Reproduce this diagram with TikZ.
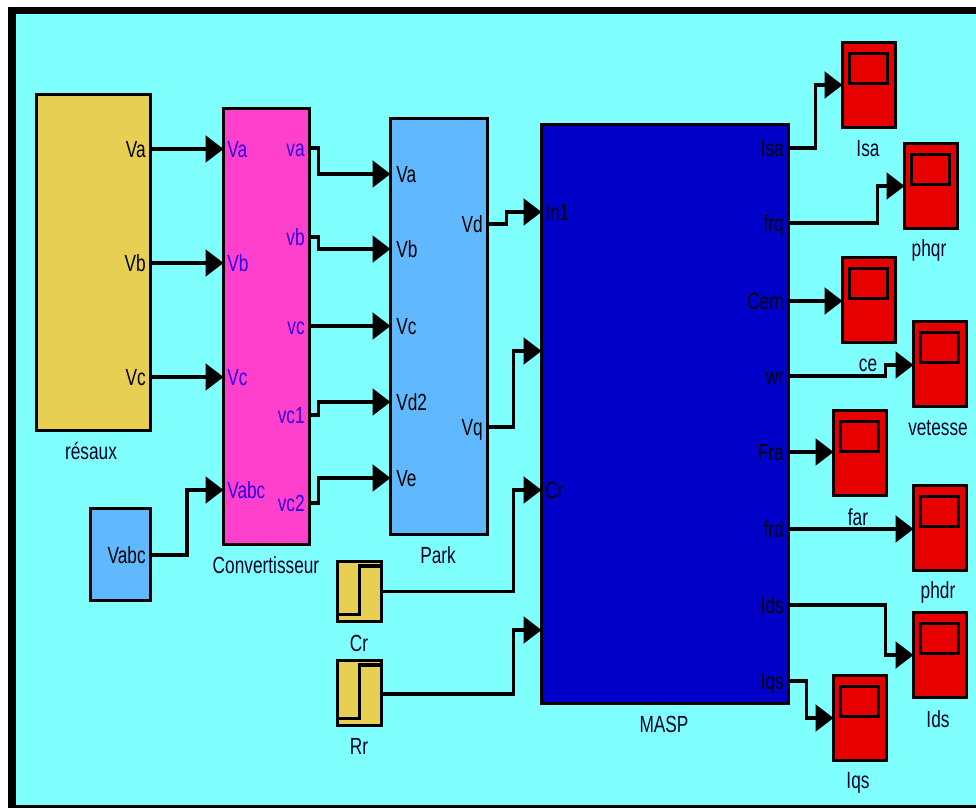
\documentclass[tikz,border=0pt]{standalone}
\usepackage{fontspec}
\setmainfont[FakeStretch=0.74]{Liberation Sans}
\usetikzlibrary{arrows.meta,calc}
\definecolor{sfond}{HTML}{80FFFF}
\definecolor{sgold}{HTML}{E6CF52}
\definecolor{srose}{HTML}{FF40CC}
\definecolor{sciel}{HTML}{60B8FF}
\definecolor{smasp}{HTML}{0000C8}
\definecolor{srouge}{HTML}{E60000}
\definecolor{sport}{HTML}{3000E0}
\tikzset{
  block/.style={draw=black,rectangle,line width=2.6pt,inner sep=0pt,outer sep=0pt},
  scopeb/.style={block,fill=srouge,minimum width=39.75pt,minimum height=63.75pt,
    path picture={\draw[line width=2.6pt] ($(path picture bounding box.north west)+(7,11)$) rectangle ++(38,30);}},
  stepb/.style={block,fill=sgold,minimum width=33pt,
    path picture={\draw[line width=2.6pt] ($(path picture bounding box.south west)+(0,-7)$) -| ($(path picture bounding box.north)+(0,4.5)$) -- ++(20,0);}},
  port/.style={font=\fontsize{17.5pt}{20pt}\selectfont,inner sep=0pt,text height=12.5pt,text depth=0pt},
  pin/.style={port,anchor=west,text=sport},
  pout/.style={port,anchor=east,text=sport},
  lout/.style={port,anchor=east,text=black},
  lin/.style={port,anchor=west,text=black},
  lbl/.style={font=\fontsize{17.5pt}{20pt}\selectfont,inner sep=0pt,text=black!85!blue},
  arr/.style={-{Triangle[length=13.5pt,width=20pt]},line width=2.6pt,draw=black},
}
\begin{document}
\begin{tikzpicture}[x=0.75pt,y=-0.75pt]
  \useasboundingbox (0,0) rectangle (976,808);
  \fill[white] (0,0) rectangle (976,808);
  \fill[black] (8,7) rectangle (976,808);
  \fill[sfond] (16,14) rectangle (976,805);
  % blocs
  \node[block,fill=sgold,minimum width=85.5pt,minimum height=252pt] (res) at (93.5,262.5) {};
  \node[block,fill=srose,minimum width=64.5pt,minimum height=327pt] (conv) at (266.5,326.5) {};
  \node[block,fill=sciel,minimum width=72.75pt,minimum height=312pt] (park) at (439,326.5) {};
  \node[block,fill=smasp,minimum width=185.25pt,minimum height=434pt] (masp) at (665,414) {};
  \node[block,fill=sciel,minimum width=45pt,minimum height=69pt] (vabc) at (120.5,554.5) {};
  \node[stepb,minimum height=45pt] (cr) at (359.5,591.5) {};
  \node[stepb,minimum height=48.75pt] (rr) at (359.5,693) {};
  % oscilloscopes
  \node[scopeb] (sisa) at (869,85) {};
  \node[scopeb] (sphqr) at (931,186) {};
  \node[scopeb] (scem) at (869,300) {};
  \node[scopeb] (svit) at (940,364) {};
  \node[scopeb] (sfar) at (860,453) {};
  \node[scopeb] (sphdr) at (940,528) {};
  \node[scopeb] (sids) at (940,655) {};
  \node[scopeb] (siqs) at (860,718) {};
  % ports
  \node[lout] (resa) at (146,149) {Va};
  \node[lout] (resb) at (146,263) {Vb};
  \node[lout] (resc) at (146,377) {Vc};
  \node[pin] (cia) at (227,149) {Va};
  \node[pin] (cib) at (227,263) {Vb};
  \node[pin] (cic) at (227,377) {Vc};
  \node[pin] (ciabc) at (227,490) {Vabc};
  \node[pout] (coa) at (305,148) {va};
  \node[pout] (cob) at (305,237) {vb};
  \node[pout] (coc) at (305,326) {vc};
  \node[pout] (coc1) at (305,415) {vc1};
  \node[pout] (coc2) at (305,503) {vc2};
  \node[lin] (pia) at (396,174) {Va};
  \node[lin] (pib) at (396,249) {Vb};
  \node[lin] (pic) at (396,326) {Vc};
  \node[lin] (pid) at (396,402) {Vd2};
  \node[lin] (pie) at (396,478) {Ve};
  \node[lout] (pod) at (483,224) {Vd};
  \node[lout] (poq) at (483,427) {Vq};
  \node[lout] (vout) at (146,555) {Vabc};
  \node[lin] (min1) at (545,212) {In1};
  \node[lin] (mcr) at (545,490) {Cr};
  \node[lout] (misa) at (784,148) {Isa};
  \node[lout] (mfrq) at (784,223) {frq};
  \node[lout] (mcem) at (784,301) {Cem};
  \node[lout] (mwr) at (784,376) {wr};
  \node[lout] (mfra) at (784,452) {Fra};
  \node[lout] (mfrd) at (784,529) {frd};
  \node[lout] (mids) at (784,605) {Ids};
  \node[lout] (miqs) at (784,681) {Iqs};
  % noms
  \node[lbl] (lres) at (91,451) {résaux};
  \node[lbl] (lconv) at (266,565) {Convertisseur};
  \node[lbl] (lpark) at (438,555) {Park};
  \node[lbl] (lmasp) at (664,724) {MASP};
  \node[lbl] (lcr) at (359,643) {Cr};
  \node[lbl] (lrr) at (359,746) {Rr};
  \node[lbl] (lisa) at (868,149) {Isa};
  \node[lbl] (lphqr) at (929,250) {phqr};
  \node[lbl] (lce) at (868,365) {ce};
  \node[lbl] (lvit) at (938,428) {vetesse};
  \node[lbl] (lfar) at (858,517) {far};
  \node[lbl] (lphdr) at (938,592) {phdr};
  \node[lbl] (lids) at (938,719) {Ids};
  \node[lbl] (liqs) at (858,783) {Iqs};
  % liaisons
  \draw[arr] (res.east |- resa) -- (conv.west |- cia);
  \draw[arr] (res.east |- resb) -- (conv.west |- cib);
  \draw[arr] (res.east |- resc) -- (conv.west |- cic);
  \draw[arr] (vabc.east |- vout) -- ++(36.5,0) |- (conv.west |- ciabc);
  \draw[arr] (conv.east |- coa) -- ++(9,0) |- (park.west |- pia);
  \draw[arr] (conv.east |- cob) -- ++(9,0) |- (park.west |- pib);
  \draw[arr] (conv.east |- coc) -- (park.west |- pic);
  \draw[arr] (conv.east |- coc1) -- ++(9,0) |- (park.west |- pid);
  \draw[arr] (conv.east |- coc2) -- ++(9,0) |- (park.west |- pie);
  \draw[arr] (park.east |- pod) -- ++(19,0) |- (masp.west |- min1);
  \draw[arr] (park.east |- poq) -- ++(26,0) |- ($(masp.west)+(0,-63)$);
  \draw[arr] (cr.east) -- ++(132,0) |- (masp.west |- mcr);
  \draw[arr] (rr.east) ++(0,1) -- ++(132,0) |- ($(masp.west)+(0,216)$);
  \draw[arr] (masp.east |- misa) -- ++(27,0) |- (sisa.west);
  \draw[arr] (masp.east |- mfrq) -- ++(89,0) |- (sphqr.west);
  \draw[arr] (masp.east |- mcem) -- (scem.west |- mcem);
  \draw[arr] (masp.east |- mwr) -- ++(97,0) |- (svit.west |- lce);
  \draw[arr] (masp.east |- mfra) -- (sfar.west |- mfra);
  \draw[arr] (masp.east |- mfrd) -- (sphdr.west |- mfrd);
  \draw[arr] (masp.east |- mids) -- ++(97,0) |- (sids.west);
  \draw[arr] (masp.east |- miqs) -- ++(18,0) |- (siqs.west);
\end{tikzpicture}
\end{document}
